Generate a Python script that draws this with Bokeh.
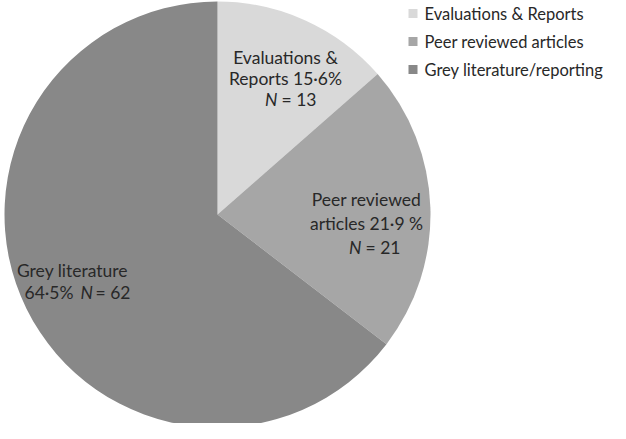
import math
from bokeh.plotting import figure
from bokeh.models import Range1d, ColumnDataSource
from bokeh.core.properties import value
from bokeh.embed import file_html
from bokeh.resources import INLINE

# ---- data ----
categories = ["Evaluations & Reports", "Peer reviewed articles", "Grey literature/reporting"]
counts = [13, 21, 62]
percent_labels = ["15·6%", "21·9 %", "64·5%"]
colors = ["#d9d9d9", "#a6a6a6", "#888888"]

W, H = 610, 423
FONT = "Lato"
TXT = "#282828"

def X(ix):
    return ix - 8

def Y(iy):
    return H - (iy - 8)

p = figure(width=W, height=H, x_range=Range1d(0, W), y_range=Range1d(0, H),
           output_backend="svg", toolbar_location=None,
           x_axis_location=None, y_axis_location=None,
           min_border=0, min_border_left=0, min_border_right=0,
           min_border_top=0, min_border_bottom=0)
p.grid.visible = False
p.outline_line_color = None
p.background_fill_color = "white"
p.border_fill_color = "white"

total = sum(counts)
starts, ends = [], []
cum = 0.0
for c in counts:
    starts.append(math.pi / 2 - 2 * math.pi * cum / total)
    cum += c
    ends.append(math.pi / 2 - 2 * math.pi * cum / total)

src = ColumnDataSource(dict(start=starts, end=ends, color=colors, cat=categories))
p.wedge(x=X(225), y=Y(222), radius=213, start_angle="start", end_angle="end",
        direction="clock", fill_color="color", line_color=None, source=src)

# ---- slice labels ----
def txt(x, y, s, align="center", italic=False, size="17.5px"):
    p.text(x=[x], y=[y], text=[s], text_align=align, text_baseline="middle",
           text_font=value(FONT), text_font_size=size, text_color=TXT,
           text_font_style="italic" if italic else "normal")

# Evaluations & Reports
txt(X(293), Y(65), "Evaluations &")
txt(X(293), Y(86), "Reports " + percent_labels[0])
txt(X(285), Y(107), "N", align="right", italic=True)
txt(X(289), Y(107), "= " + str(counts[0]), align="left")

# Peer reviewed articles
txt(X(374), Y(207), "Peer reviewed")
txt(X(374), Y(231), "articles " + percent_labels[1])
txt(X(369), Y(255), "N", align="right", italic=True)
txt(X(373), Y(255), "= " + str(counts[1]), align="left")

# Grey literature
txt(X(80), Y(278), "Grey literature")
txt(X(32), Y(300), percent_labels[2], align="left")
txt(X(88), Y(300), "N", align="left", italic=True)
txt(X(103), Y(300), "= " + str(counts[2]), align="left")

# ---- legend ----
for i, (cat, col) in enumerate(zip(categories, colors)):
    iy = 21 + 28 * i
    p.rect(x=[X(420.5)], y=[Y(iy)], width=9, height=9, fill_color=col, line_color=None)
    p.text(x=[X(432)], y=[Y(iy)], text=[cat], text_align="left", text_baseline="middle",
           text_font=value(FONT), text_font_size="16.5px", text_color=TXT)

open("out.html", "w").write(file_html(p, INLINE))
